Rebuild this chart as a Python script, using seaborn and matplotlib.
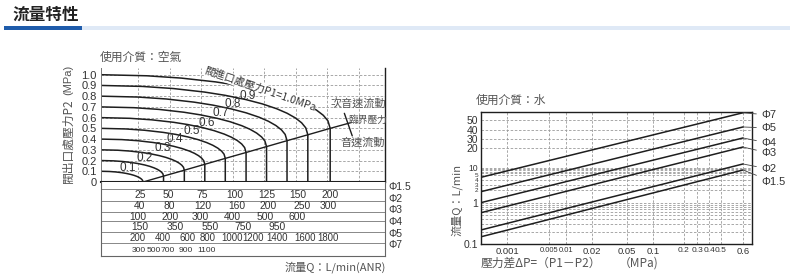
import numpy as np
import pandas as pd
import matplotlib
matplotlib.use("Agg")
import matplotlib.pyplot as plt
from matplotlib.patches import Rectangle
import seaborn as sns

# ---------------- data : left chart (air) ----------------
p1_levels = [0.1, 0.2, 0.3, 0.4, 0.5, 0.6, 0.7, 0.8, 0.9, 1.0]
# flow position (grid units) and outlet pressure where each curve becomes sonic
crit_q = [1.16, 1.81, 2.47, 3.12, 3.77, 4.43, 5.08, 5.73, 6.39, 7.10]
crit_p2 = [0.0, 0.055, 0.11, 0.165, 0.22, 0.275, 0.33, 0.385, 0.44, 0.50]
crit_line_end = [7.78, 0.555]
# normalised curve shape (fraction of flow, fraction of pressure drop)
shape_t = [0.0, 0.2, 0.35, 0.5, 0.6, 0.7, 0.78, 0.85, 0.9, 0.94, 0.97, 0.99, 1.0]
shape_s = [0.0, 0.02, 0.063, 0.134, 0.2, 0.286, 0.374, 0.473, 0.564, 0.659, 0.757, 0.859, 1.0]
q_axis_min = -0.175

table_labels = ["Φ1.5", "Φ2", "Φ3", "Φ4", "Φ5", "Φ7"]
table_values = [
    [25, 50, 75, 100, 125, 150, 200],
    [40, 80, 120, 160, 200, 250, 300],
    [100, 200, 300, 400, 500, 600],
    [150, 350, 550, 750, 950],
    [200, 400, 600, 800, 1000, 1200, 1400, 1600, 1800],
    [300, 500, 700, 900, 1100],
]
table_pos = [
    [1.06, 1.95, 3.03, 4.08, 5.10, 6.08, 7.10],
    [1.06, 2.00, 3.06, 4.14, 5.13, 6.21, 7.03],
    [1.00, 2.02, 2.97, 3.98, 5.03, 6.05],
    [1.06, 2.17, 3.29, 4.33, 5.41],
    [1.00, 1.79, 2.56, 3.22, 3.98, 4.65, 5.41, 6.30, 7.03],
    [1.03, 1.51, 1.95, 2.52, 3.19],
]

# ---------------- data : right chart (water) ----------------
dp_ticks = [0.001, 0.005, 0.01, 0.02, 0.05, 0.1, 0.2, 0.3, 0.4, 0.5, 0.6]
dp_tick_labels = ["0.001", "0.005", "0.01", "0.02", "0.05", "0.1", "0.2", "0.3", "0.4", "0.5", "0.6"]
q_ticks = [0.1, 1, 2, 3, 4, 5, 10, 20, 30, 40, 50]
q_tick_labels = ["0.1", "1", "2", "3", "4", "5", "10", "20", "30", "40", "50"]
orifices = ["Φ7", "Φ5", "Φ4", "Φ3", "Φ2", "Φ1.5"]
dp_start, dp_end = 0.00035, 0.6
q_at_start = [4.51, 1.83, 1.02, 0.58, 0.22, 0.15]
q_at_end = [59.0, 42.8, 31.0, 20.9, 11.5, 8.2]

# axis calibration of the (non-uniform) printed scales: value -> pixel
dp_cal_val = [0.00035, 0.001, 0.005, 0.01, 0.02, 0.05, 0.1, 0.2, 0.3, 0.4, 0.5, 0.6, 0.7]
dp_cal_px = [481, 507, 549, 566, 592, 627, 653, 684, 697, 709, 721, 743, 752]
q_cal_val = [0.1, 1, 2, 3, 4, 5, 10, 20, 30, 40, 50, 60]
q_cal_px = [244, 203, 190, 185, 180, 175, 168, 148, 139, 130, 120, 112]

# ---------------- style ----------------
sns.set_theme(style="white")
plt.rcParams["font.family"] = ["Liberation Sans", "Noto Sans CJK TC", "DejaVu Sans"]
CJK = ["Noto Sans CJK TC", "Liberation Sans", "DejaVu Sans"]
INK = "#1e1e1e"
TXT = "#333333"
GRAY = "#555555"
GRID = "#9a9a9a"

W, H = 790, 278
fig = plt.figure(figsize=(W / 100, H / 100), dpi=100)
fig.patch.set_facecolor("white")


def rect(l, t, r, b):
    return [l / W, 1 - b / H, (r - l) / W, (b - t) / H]


def fx(x):
    return x / W


def fy(y):
    return 1 - y / H


# ---------------- header ----------------
fig.text(fx(12), fy(14.5), "流量特性", fontsize=12, fontweight="bold", color="#222222",
         family=CJK, va="center", ha="left")
fig.add_artist(Rectangle((fx(4), fy(30)), (82 - 4) / W, 3.5 / H, color="#1f5cab",
                         transform=fig.transFigure, lw=0))
fig.add_artist(Rectangle((fx(82), fy(30)), (790 - 82) / W, 3.5 / H, color="#dfe9f6",
                         transform=fig.transFigure, lw=0))

# ---------------- left chart ----------------
ax = fig.add_axes(rect(101, 68, 385, 182))
rows = []
for i, (p1, qc, pc) in enumerate(zip(p1_levels, crit_q, crit_p2)):
    k = 0
    for t, s in zip(shape_t, shape_s):
        rows.append(dict(curve=i, order=k, q=q_axis_min + t * (qc - q_axis_min), p2=p1 - s * (p1 - pc)))
        k += 1
    rows.append(dict(curve=i, order=k, q=qc, p2=0.0))
curves = pd.DataFrame(rows)
sns.lineplot(data=curves, x="q", y="p2", units="curve", estimator=None, sort=False,
             color=INK, lw=1.1, ax=ax, legend=False)
crit = pd.DataFrame(dict(q=crit_q + [crit_line_end[0]], p2=crit_p2 + [crit_line_end[1]]))
sns.lineplot(data=crit, x="q", y="p2", sort=False, estimator=None, color=INK, lw=1.0, ax=ax)
ax.plot([7.55, 7.80], [0.64, 0.43], color=INK, lw=1.0)

ax.set_xlim(q_axis_min, 8.84)
ax.set_ylim(0, 1.0625)
ax.set_xticks(range(1, 9))
ax.set_xticklabels([])
ax.set_xticks(np.arange(0.0, 8.6, 0.5), minor=True)
ax.set_yticks(np.round(np.arange(0, 1.01, 0.1), 1))
ax.set_yticklabels(["0"] + [f"{v:.1f}" for v in np.arange(0.1, 1.01, 0.1)], fontsize=8, color=TXT)
ax.tick_params(axis="y", length=0, pad=3)
ax.tick_params(axis="x", which="both", direction="out", length=5, width=0.7, color=INK, bottom=True)
ax.grid(True, which="major", ls=(0, (3, 2)), lw=0.6, color=GRID)
ax.set_xlabel("")
ax.set_ylabel("")
ax.spines["top"].set_visible(False)
ax.spines["left"].set_color("#777777")
ax.spines["left"].set_linewidth(0.7)
ax.spines["right"].set_color(INK)
ax.spines["right"].set_linewidth(1.0)
ax.spines["bottom"].set_color(INK)
ax.spines["bottom"].set_linewidth(1.5)
ax.set_facecolor("white")

label_pos = [(0.68, 0.128), (1.22, 0.22), (1.79, 0.314), (2.17, 0.398), (2.71, 0.478),
             (3.19, 0.55), (3.63, 0.64), (4.02, 0.73), (4.49, 0.80)]
for p1, (lx, ly) in zip(p1_levels[:-1], label_pos):
    ax.text(lx, ly, f"{p1:.1f}", fontsize=8.5, color=TXT, ha="center", va="center", zorder=6)
ax.text(4.86, 0.872, "閥進口處壓力P1=1.0MPa", fontsize=7.6, color=TXT, ha="center", va="center",
        rotation=-19, family=CJK, zorder=5,
        bbox=dict(boxstyle="square,pad=0.05", fc="white", ec="none"))
ax.text(8.0, 0.73, "次音速流動", fontsize=8, color=GRAY, ha="center", va="center", family=CJK)
ax.text(8.3, 0.575, "臨界壓力", fontsize=7, color=GRAY, ha="center", va="center", family=CJK)
ax.text(8.12, 0.37, "音速流動", fontsize=8, color=GRAY, ha="center", va="center", family=CJK)

fig.text(fx(100), fy(57), "使用介質：空氣", fontsize=8.5, color=GRAY, family=CJK, va="center", ha="left")
fig.text(fx(68), fy(80), "(MPa)", fontsize=8, color=GRAY, rotation=90, va="center", ha="center")
fig.text(fx(68), fy(141), "閥出口處壓力P2", fontsize=8.5, color=GRAY, rotation=90, va="center",
         ha="center", family=CJK)

# table under the left chart
tb = fig.add_axes(rect(101, 182, 385, 256))
tb.set_xlim(q_axis_min, 8.84)
tb.set_ylim(74, 0)
tb.set_xticks([])
tb.set_yticks([])
tb.spines["top"].set_visible(False)
for side in ["left", "right", "bottom"]:
    tb.spines[side].set_color("#666666")
    tb.spines[side].set_linewidth(0.8)
tb.set_facecolor("white")
row_lines = [7, 19, 30, 39, 50, 61]
row_text = [13, 24, 35, 45, 56, 68]
row_fs = [7.4, 7.4, 7.4, 7.4, 6.9, 6.1]
for yl in row_lines:
    tb.axhline(yl, color="#888888", lw=0.7)
for vals, pos, yt, fs in zip(table_values, table_pos, row_text, row_fs):
    for v, p in zip(vals, pos):
        tb.text(p, yt, str(v), fontsize=fs, color=TXT, ha="center", va="center")
phi_y = [187, 199, 210, 222, 234, 245]
for lab, yy in zip(table_labels, phi_y):
    fig.text(fx(388), fy(yy), lab, fontsize=7.5, color=TXT, ha="left", va="center")
fig.text(fx(386), fy(267), "流量Q：L/min(ANR)", fontsize=8, color=GRAY, ha="right", va="center", family=CJK)


# ---------------- right chart ----------------
def make_scale(vals, pos):
    lv = np.log10(np.asarray(vals, float))
    ps = np.asarray(pos, float)
    s0 = (ps[1] - ps[0]) / (lv[1] - lv[0])
    s1 = (ps[-1] - ps[-2]) / (lv[-1] - lv[-2])
    lv = np.concatenate([[lv[0] - 20], lv, [lv[-1] + 20]])
    ps = np.concatenate([[ps[0] - 20 * s0], ps, [ps[-1] + 20 * s1]])

    def fwd(v):
        v = np.asarray(v, float)
        lg = np.log10(np.where(v > 0, v, 1e-30))
        return np.interp(lg, lv, ps)

    def inv(p):
        return 10 ** np.interp(np.asarray(p, float), ps, lv)

    return fwd, inv


ax2 = fig.add_axes(rect(481, 112, 752, 244))
ax2.set_xscale("function", functions=make_scale(dp_cal_val, dp_cal_px))
ax2.set_yscale("function", functions=make_scale(q_cal_val, [-p for p in q_cal_px]))
ax2.set_xlim(dp_cal_val[0], dp_cal_val[-1])
ax2.set_ylim(q_cal_val[0], q_cal_val[-1])

lines_df = pd.DataFrame(dict(
    orifice=[o for o in orifices for _ in range(2)],
    dp=[d for _ in orifices for d in (dp_start, dp_end)],
    q=[v for a, b in zip(q_at_start, q_at_end) for v in (a, b)],
))
sns.lineplot(data=lines_df, x="dp", y="q", units="orifice", estimator=None, sort=False,
             color=INK, lw=1.1, ax=ax2, legend=False)

ax2.set_xticks(dp_ticks)
ax2.set_xticklabels(dp_tick_labels, fontsize=6.8, color=TXT)
for lbl, v in zip(ax2.get_xticklabels(), dp_ticks):
    if v in (0.005, 0.01):
        lbl.set_fontsize(5.4)
    elif v in (0.2, 0.3, 0.4, 0.5):
        lbl.set_fontsize(6.0)
ax2.set_xticks([], minor=True)
ax2.set_yticks(q_ticks)
ax2.set_yticklabels(q_tick_labels, fontsize=7.5, color=TXT)
for lbl, v in zip(ax2.get_yticklabels(), q_ticks):
    if v in (2, 3, 4, 5):
        lbl.set_fontsize(4.6)
    elif v == 10:
        lbl.set_fontsize(6.2)
ax2.set_yticks([0.2, 0.3, 0.4, 0.5, 0.6, 0.7, 0.8, 0.9, 6, 7, 8, 9], minor=True)
ax2.tick_params(axis="both", which="both", length=0, pad=2)
ax2.tick_params(axis="y", which="minor", labelleft=False)
ax2.grid(True, which="both", ls=(0, (3, 2)), lw=0.6, color=GRID)
ax2.set_xlabel("")
ax2.set_ylabel("")
for side in ax2.spines.values():
    side.set_color(INK)
    side.set_linewidth(1.0)
ax2.set_facecolor("white")

phi_label_y = [115, 128, 143, 153, 169, 182]
for lab, qe, yy in zip(orifices, q_at_end, phi_label_y):
    ax2.annotate(lab, xy=(dp_end, qe), xycoords="data", xytext=(fx(761), fy(yy)),
                 textcoords="figure fraction", fontsize=8, color=TXT, ha="left", va="center",
                 annotation_clip=False,
                 arrowprops=dict(arrowstyle="-", lw=0.6, color="#444444", shrinkA=1, shrinkB=0))

fig.text(fx(476), fy(100), "使用介質：水", fontsize=8.5, color=GRAY, family=CJK, va="center", ha="left")
fig.text(fx(457), fy(200), "流量Q：L/min", fontsize=8, color=GRAY, rotation=90, va="center",
         ha="center", family=CJK)
fig.text(fx(481), fy(263), "壓力差ΔP=（P1－P2）", fontsize=8.5, color=GRAY, va="center",
         ha="left", family=CJK)
fig.text(fx(639), fy(263), "（MPa)", fontsize=8.5, color=GRAY, va="center", ha="center", family=CJK)

fig.savefig("out.png", dpi=100, facecolor="white")
